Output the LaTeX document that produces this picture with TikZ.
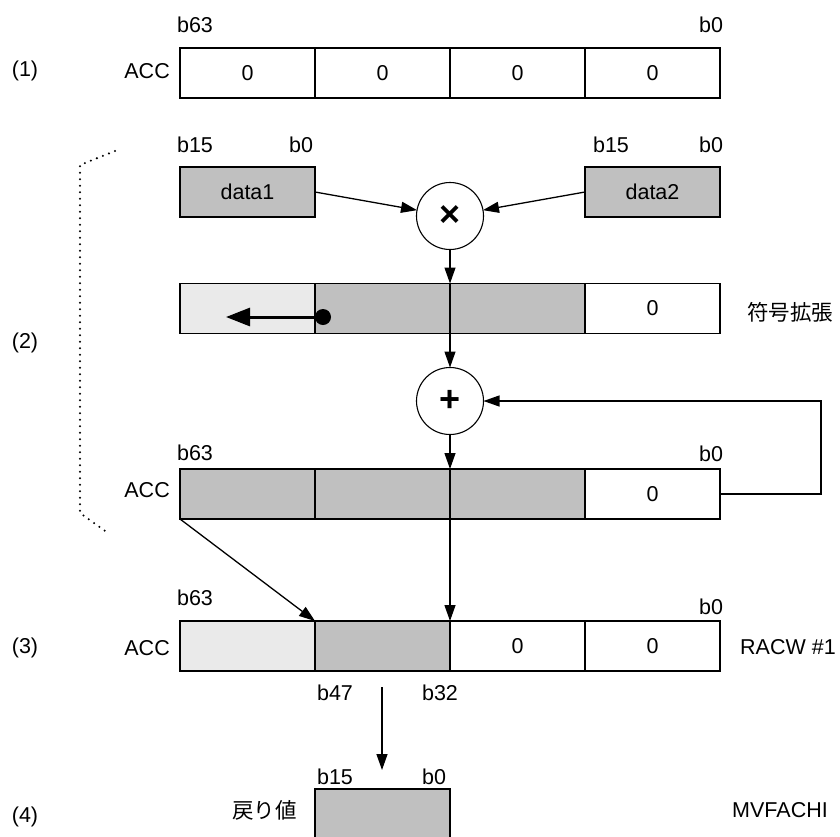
\documentclass[tikz,border=0pt]{standalone}
\usepackage{fontspec}
\setmainfont{Liberation Sans}
\newfontfamily\jp{Noto Sans CJK JP}
\usetikzlibrary{arrows.meta}
\definecolor{cellgray}{HTML}{C0C0C0}
\definecolor{cellpale}{HTML}{EAEAEA}
\begin{document}
\begin{tikzpicture}[x=1pt,y=-1pt,
 every node/.style={font=\fontsize{21.5}{26}\selectfont},
 cell/.style={draw, line width=1.5pt, minimum width=135pt, minimum height=50pt, inner sep=0pt, outer sep=0pt},
 zero/.style={cell, fill=white},
 dark/.style={cell, fill=cellgray},
 pale/.style={cell, fill=cellpale},
 op/.style={circle, draw, line width=1.1pt, minimum size=67pt, inner sep=0pt, outer sep=0pt, fill=white, font=\fontsize{36}{38}\selectfont\bfseries},
 lbl/.style={inner sep=0pt},
 conn/.style={line width=1.3pt, -{Triangle[length=16pt,width=11pt]}},
]
\useasboundingbox (0,0) rectangle (840,836);
\clip (0,0) rectangle (840,836);

% ---- (1)
\node[lbl] (s1) at (25,71) {(1)};
\node[lbl,anchor=east] (acc1) at (170,71) {ACC};
\node[zero] (r1a) at (247.5,73) {0};
\node[zero] (r1b) at (382.5,73) {0};
\node[zero] (r1c) at (517.5,73) {0};
\node[zero] (r1d) at (652.5,73) {0};
\node[lbl] (r1hi) at (195,25) {b63};
\node[lbl] (r1lo) at (711,25) {b0};

% ---- (2) bracket
\draw[line width=2.3pt, line cap=round, dash pattern=on 0pt off 6.5pt] (115,151) -- (80,165) -- (80,513) -- (108,533);
\node[lbl] (s2) at (25,343) {(2)};

% data boxes
\node[dark] (d1) at (247.5,192) {data1};
\node[dark] (d2) at (652.5,192) {data2};
\node[lbl] (d1hi) at (195,145) {b15};
\node[lbl] (d1lo) at (301,145) {b0};
\node[lbl] (d2hi) at (611,145) {b15};
\node[lbl] (d2lo) at (711,145) {b0};

% multiply
\node[op] (mul) at (450,216) {×};
\draw[conn] (d1.east) -- (mul);
\draw[conn] (d2.west) -- (mul);

% product row
\node[pale] (r2a) at (247.5,308.5) {};
\node[dark] (r2b) at (382.5,308.5) {};
\node[dark] (r2c) at (517.5,308.5) {};
\node[zero] (r2d) at (652.5,308.5) {0};
\node[lbl] (sext) at (790,312) {\jp 符号拡張};
\draw[conn] (mul.south) -- (r2b.north east);
\coordinate (sdot) at (323,317);
\coordinate (stip) at (226,317);
\fill (sdot) circle (8pt);
\draw[line width=3pt, -{Triangle[length=24pt,width=18pt]}] (sdot) -- (stip);

% add
\node[op] (add) at (450,401) {+};
\draw[conn] (r2b.south east) -- (add.north);

% ACC row
\node[dark] (a2a) at (247.5,494) {};
\node[dark] (a2b) at (382.5,494) {};
\node[dark] (a2c) at (517.5,494) {};
\node[zero] (a2d) at (652.5,494) {0};
\node[lbl,anchor=east] (acc2) at (170,490) {ACC};
\node[lbl] (a2hi) at (195,453) {b63};
\node[lbl] (a2lo) at (711,454) {b0};
\draw[conn] (add.south) -- (a2b.north east);
\draw[conn] (a2d.east) -- (821,494) |- (add.east);

% ---- (3)
\node[lbl] (s3) at (25,648) {(3)};
\node[lbl,anchor=east] (acc3) at (170,648) {ACC};
\node[pale] (r3a) at (247.5,646) {};
\node[dark] (r3b) at (382.5,646) {};
\node[zero] (r3c) at (517.5,646) {0};
\node[zero] (r3d) at (652.5,646) {0};
\node[lbl] (r3hi) at (195,598) {b63};
\node[lbl] (r3lo) at (711,607) {b0};
\node[lbl] (r3m1) at (335,693) {b47};
\node[lbl] (r3m2) at (440,693) {b32};
\node[lbl,anchor=west] (racw) at (740,647) {RACW \#1};
\draw[conn] (a2a.south west) -- (r3b.north west);
\draw[conn] (a2b.south east) -- (r3c.north west);

% ---- (4)
\coordinate (dtop) at (382,687);
\coordinate (dbot) at (382,770);
\draw[conn] (dtop) -- (dbot);
\node[lbl] (s4) at (25,817) {(4)};
\node[lbl] (ret) at (264.5,810) {\jp 戻り値};
\node[dark] (r4) at (382.5,814) {};
\node[lbl] (r4hi) at (335,777) {b15};
\node[lbl] (r4lo) at (434,777) {b0};
\node[lbl,anchor=west] (mvf) at (732,810) {MVFACHI};
\end{tikzpicture}
\end{document}
